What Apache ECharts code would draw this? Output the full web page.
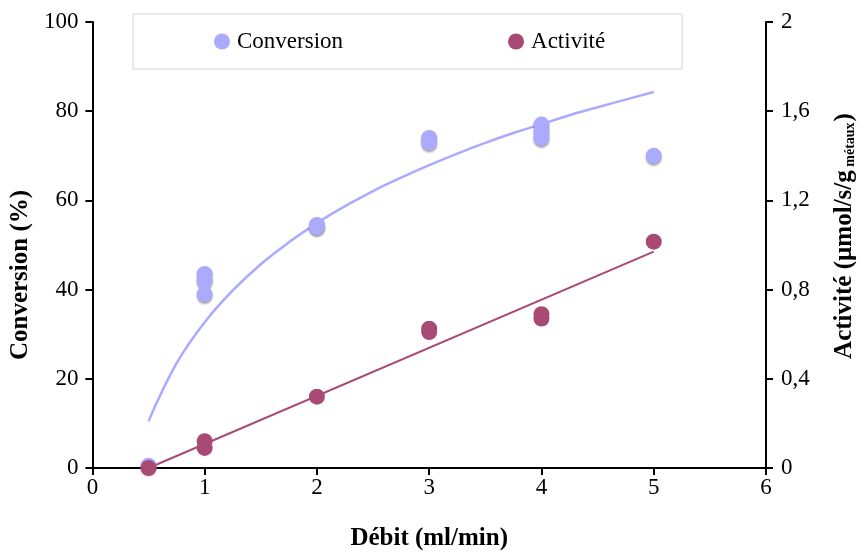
<!DOCTYPE html>
<html>
<head>
<meta charset="utf-8">
<script src="https://cdn.jsdelivr.net/npm/echarts@6/dist/echarts.min.js"></script>
<style>html,body{margin:0;padding:0;background:#fff;}#c{width:865px;height:556px;}</style>
</head>
<body>
<div id="c"></div>
<script>
// Data
const convDebit = [0.5, 1, 1, 1, 2, 2, 3, 3, 4, 4, 4, 5];
const convValues = [0.5, 43.5, 42, 39, 54.5, 54, 74, 73, 77, 75.5, 74, 70];
const actDebit = [0.5, 1, 1, 2, 3, 3, 4, 4, 5];
const actValues = [0, 0.12, 0.09, 0.32, 0.625, 0.61, 0.69, 0.67, 1.015];
const convTrendDebit = [0.5, 0.75, 1, 1.25, 1.5, 1.75, 2, 2.25, 2.5, 2.75, 3, 3.25, 3.5, 3.75, 4, 4.25, 4.5, 4.75, 5];
const convTrendValues = [10.5, 23.5, 32.7, 39.8, 45.7, 50.6, 54.9, 58.7, 62.1, 65.1, 67.9, 70.5, 72.9, 75.1, 77.1, 79.1, 80.9, 82.6, 84.3];
const actTrendDebit = [0.5, 5];
const actTrendValues = [0, 0.97];
const xTicks = [0, 1, 2, 3, 4, 5, 6];
const leftTicks = [0, 20, 40, 60, 80, 100];
const rightTicks = [0, 0.4, 0.8, 1.2, 1.6, 2];

const zip = (a, b) => a.map((v, i) => [v, b[i]]);
const FONT = 'Liberation Serif';
const convColor = '#aaaaff';
const actColor = '#a84a74';
const axisLine = { show: true, onZero: false, lineStyle: { color: '#000', width: 2 } };
const labelStyle = { color: '#000', fontFamily: FONT, fontSize: 23 };

const chart = echarts.init(document.getElementById('c'), null, { renderer: 'canvas' });
chart.setOption({
  animation: false,
  backgroundColor: '#fff',
  grid: { left: 90, right: 96, top: 22, bottom: 78, containLabel: false },
  legend: {
    data: ['Conversion', 'Activité'],
    left: 133, top: 14,
    padding: [16, 77, 16, 81],
    itemGap: 165,
    itemWidth: 16, itemHeight: 16,
    icon: 'circle',
    borderColor: '#d4d4d4', borderWidth: 1,
    textStyle: { color: '#000', fontFamily: FONT, fontSize: 23, padding: [0, 0, 0, 2] }
  },
  xAxis: [{
    type: 'value', min: xTicks[0], max: xTicks[xTicks.length - 1], interval: 1,
    axisLine: axisLine,
    axisTick: { show: true, length: 7, lineStyle: { color: '#000', width: 2 } },
    axisLabel: Object.assign({ margin: 8 }, labelStyle),
    splitLine: { show: false },
    name: 'Débit (ml/min)', nameLocation: 'middle', nameGap: 58,
    nameTextStyle: { color: '#000', fontFamily: FONT, fontSize: 25, fontWeight: 'bold' }
  }],
  yAxis: [{
    type: 'value', min: leftTicks[0], max: leftTicks[leftTicks.length - 1], interval: 20,
    position: 'left',
    axisLine: axisLine,
    axisTick: { show: true, length: 7, lineStyle: { color: '#000', width: 2 } },
    axisLabel: Object.assign({ margin: 14 }, labelStyle),
    splitLine: { show: false },
    name: 'Conversion (%)', nameLocation: 'middle', nameGap: 50, nameRotate: 90,
    nameTextStyle: { color: '#000', fontFamily: FONT, fontSize: 25, fontWeight: 'bold', padding: [0, 60, 0, 0] }
  }, {
    type: 'value', min: rightTicks[0], max: rightTicks[rightTicks.length - 1], interval: 0.4,
    position: 'right',
    axisLine: axisLine,
    axisTick: { show: true, length: 7, lineStyle: { color: '#000', width: 2 } },
    axisLabel: Object.assign({
      margin: 15,
      formatter: v => Number(v.toFixed(1)).toString().replace('.', ',')
    }, labelStyle),
    splitLine: { show: false },
    name: '{t|Activité (µmol/s/g}{s| métaux}{t|)}', nameLocation: 'middle', nameGap: 66, nameRotate: 90,
    nameTextStyle: {
      color: '#000', fontFamily: FONT, fontSize: 25, fontWeight: 'bold', padding: [0, 0, 0, 18],
      rich: {
        t: { fontFamily: FONT, fontSize: 25, fontWeight: 'bold', color: '#000' },
        s: { fontFamily: FONT, fontSize: 14, fontWeight: 'bold', color: '#000', verticalAlign: 'bottom', padding: [10, 1, 0, 0] }
      }
    }
  }, {
    type: 'value', min: rightTicks[0], max: rightTicks[rightTicks.length - 1], interval: 0.4,
    position: 'right',
    axisLine: { show: false },
    axisTick: { show: true, inside: true, length: 7, lineStyle: { color: '#000', width: 2 } },
    axisLabel: { show: false },
    splitLine: { show: false }
  }],
  series: [{
    name: 'convTrend', type: 'line', xAxisIndex: 0, yAxisIndex: 0,
    data: zip(convTrendDebit, convTrendValues), smooth: 0.4, symbol: 'none',
    lineStyle: { color: convColor, width: 2.5 }, z: 2, silent: true
  }, {
    name: 'actTrend', type: 'line', xAxisIndex: 0, yAxisIndex: 1,
    data: zip(actTrendDebit, actTrendValues), symbol: 'none',
    lineStyle: { color: actColor, width: 2 }, z: 2, silent: true
  }, {
    name: 'Conversion', type: 'scatter', xAxisIndex: 0, yAxisIndex: 0,
    data: zip(convDebit, convValues), symbol: 'circle', symbolSize: 16,
    itemStyle: { color: convColor, opacity: 1, shadowColor: 'rgba(0,0,0,0.35)', shadowBlur: 2, shadowOffsetY: 2 },
    z: 3
  }, {
    name: 'Activité', type: 'scatter', xAxisIndex: 0, yAxisIndex: 1,
    data: zip(actDebit, actValues), symbol: 'circle', symbolSize: 16,
    itemStyle: { color: actColor, opacity: 1 },
    z: 4
  }]
});
</script>
</body>
</html>
